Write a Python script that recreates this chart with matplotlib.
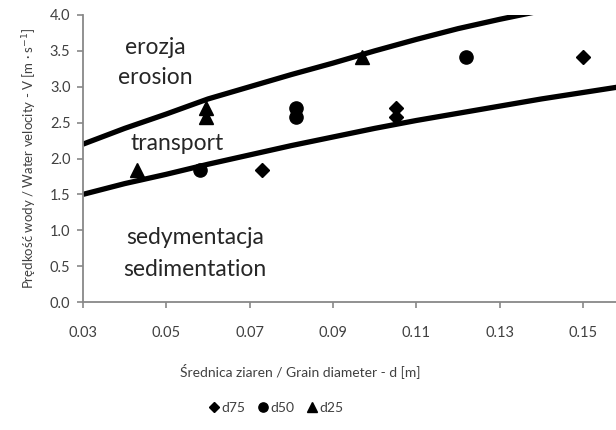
import matplotlib
matplotlib.use('Agg')
import matplotlib.pyplot as plt

# boundary curves
curve_x = [0.03, 0.04, 0.05, 0.06, 0.07, 0.08, 0.09, 0.10, 0.11, 0.12, 0.13, 0.14, 0.15, 0.16]
erosion_v = [2.20, 2.42, 2.62, 2.83, 3.00, 3.17, 3.33, 3.50, 3.66, 3.81, 3.94, 4.06, 4.18, 4.30]
sediment_v = [1.50, 1.65, 1.78, 1.92, 2.05, 2.18, 2.30, 2.42, 2.53, 2.63, 2.73, 2.83, 2.92, 3.01]

# measured points
d75_x = [0.073, 0.105, 0.105, 0.150]
d50_x = [0.058, 0.081, 0.081, 0.122]
d25_x = [0.043, 0.0595, 0.0595, 0.097]
v_meas = [1.84, 2.58, 2.71, 3.41]

plt.rcParams['font.family'] = ['Lato', 'DejaVu Sans']
fig = plt.figure(figsize=(6.16, 4.30), dpi=100)
ax = fig.add_axes([83 / 616, 1 - 302 / 430, 533 / 616, 287 / 430])

ax.plot(curve_x, erosion_v, color='black', lw=3.8, solid_capstyle='butt')
ax.plot(curve_x, sediment_v, color='black', lw=3.8, solid_capstyle='butt')

ax.plot(d75_x, v_meas, 'D', color='black', ms=7, label='d75', linestyle='none')
ax.plot(d50_x, v_meas, 'o', color='black', ms=9.5, label='d50', linestyle='none')
ax.plot(d25_x, v_meas, '^', color='black', ms=10.5, label='d25', linestyle='none')

ax.set_xlim(0.03, 0.1579)
ax.set_ylim(0, 4.0)
ax.set_xticks([0.03, 0.05, 0.07, 0.09, 0.11, 0.13, 0.15])
ax.set_xticklabels(['0.03', '0.05', '0.07', '0.09', '0.11', '0.13', '0.15'])
ax.set_yticks([0, 0.5, 1.0, 1.5, 2.0, 2.5, 3.0, 3.5, 4.0])
ax.set_yticklabels(['%.1f' % v for v in ax.get_yticks()])

for s in ['top', 'right']:
    ax.spines[s].set_visible(False)
for s in ['left', 'bottom']:
    ax.spines[s].set_color('#888888')
    ax.spines[s].set_linewidth(1.3)
ax.tick_params(axis='both', colors='#888888', labelcolor='#404040', labelsize=10.5, length=4, width=1.2)
ax.tick_params(axis='x', pad=13)
ax.tick_params(axis='y', pad=5)

txt = dict(fontsize=16.5, color='#262626', ha='center', va='center')
ax.text(0.0473, 3.55, 'erozja', **txt)
ax.text(0.0473, 3.13, 'erosion', **txt)
ax.text(0.0526, 2.21, 'transport', **txt)
ax.text(0.0569, 0.90, 'sedymentacja', **txt)
ax.text(0.0569, 0.45, 'sedimentation', **txt)

ax.set_ylabel('Prędkość wody / Water velocity - V [m · s$^{-1}$]', fontsize=9.5, color='#404040', labelpad=8)
fig.text(300 / 616, 1 - 371 / 430, 'Średnica ziaren / Grain diameter - d [m]', fontsize=10, color='#404040',
         ha='center', va='center')

fig.legend(loc='center', bbox_to_anchor=(275 / 616, 1 - 408 / 430), ncol=3, frameon=False,
           fontsize=10, handletextpad=0.0, columnspacing=0.8, markerscale=0.7, handlelength=1.0,
           labelcolor='#404040')

fig.savefig('out.png', dpi=100)
